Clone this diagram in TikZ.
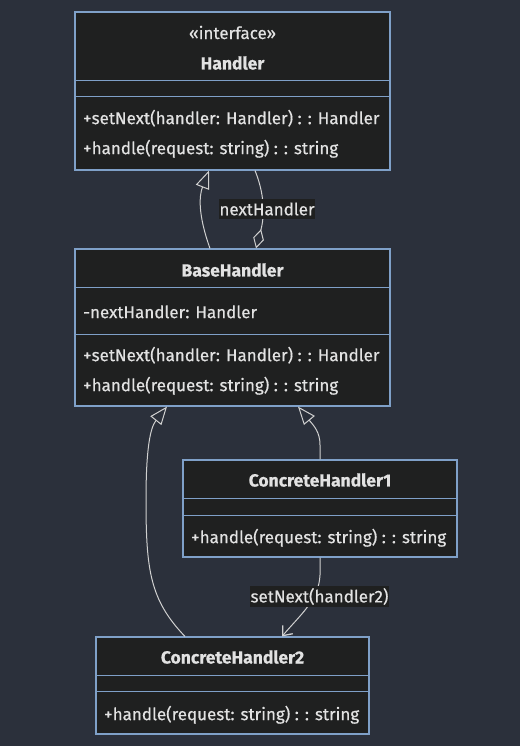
\documentclass[tikz,border=0pt]{standalone}
\usepackage{fontspec}
\setmainfont{Fira Sans}[FakeBold=0.5]
\usetikzlibrary{arrows.meta}
\definecolor{bg}{HTML}{2B303B}
\definecolor{boxfill}{HTML}{1F2020}
\definecolor{boxline}{HTML}{7FA0C8}
\definecolor{txt}{HTML}{E2E2E2}
\definecolor{edgecol}{HTML}{D0D0D0}
\begin{document}
\begin{tikzpicture}[x=1pt,y=-1pt,
  classbox/.style={draw=boxline, fill=boxfill, line width=1.1pt, inner sep=0pt, rectangle},
  sepline/.style={draw=boxline, line width=1.1pt},
  titletext/.style={font=\bfseries\fontsize{17.5}{20}\selectfont, text=txt, inner sep=0pt},
  stereotext/.style={font=\fontsize{17}{20}\selectfont, text=txt, inner sep=0pt},
  membertext/.style={font=\fontsize{17}{20}\selectfont, text=txt, inner sep=0pt, anchor=mid west},
  edgeline/.style={draw=edgecol, line width=1pt},
  edgelabel/.style={fill=boxfill, font=\fontsize{17}{20}\selectfont, text=txt, inner sep=0pt},
  inherit/.style={-{Triangle[open, length=18pt, width=14pt, fill=bg]}},
]
\fill[bg] (0,0) rectangle (520,746);
\useasboundingbox (0,0) rectangle (520,746);

% class boxes
\node[classbox, minimum width=315pt, minimum height=158pt] (handler) at (232.5,91) {};
\node[classbox, minimum width=315pt, minimum height=157pt] (base) at (232.5,327.5) {};
\node[classbox, minimum width=274pt, minimum height=97pt] (ch1) at (320,508.5) {};
\node[classbox, minimum width=273pt, minimum height=97pt] (ch2) at (232.5,685.5) {};

% separators
\draw[sepline] ([yshift=-69pt]handler.north west) -- ([yshift=-69pt]handler.north east);
\draw[sepline] ([yshift=-85pt]handler.north west) -- ([yshift=-85pt]handler.north east);
\draw[sepline] ([yshift=-39pt]base.north west) -- ([yshift=-39pt]base.north east);
\draw[sepline] ([yshift=-86pt]base.north west) -- ([yshift=-86pt]base.north east);
\draw[sepline] ([yshift=-39pt]ch1.north west) -- ([yshift=-39pt]ch1.north east);
\draw[sepline] ([yshift=-56pt]ch1.north west) -- ([yshift=-56pt]ch1.north east);
\draw[sepline] ([yshift=-39pt]ch2.north west) -- ([yshift=-39pt]ch2.north east);
\draw[sepline] ([yshift=-55pt]ch2.north west) -- ([yshift=-55pt]ch2.north east);

% texts: Handler
\node[stereotext] (hst) at (232.5,32.5) {«interface»};
\node[titletext] (htitle) at (232.5,63) {Handler};
\node[membertext] (hm1) at (83,121.5) {+setNext(handler: Handler) : : Handler};
\node[membertext] (hm2) at (83,151.5) {+handle(request: string) : : string};
% BaseHandler
\node[titletext] (btitle) at (232.5,270) {BaseHandler};
\node[membertext] (ba1) at (83,315.5) {-nextHandler: Handler};
\node[membertext] (bm1) at (83,358.5) {+setNext(handler: Handler) : : Handler};
\node[membertext] (bm2) at (83,388.5) {+handle(request: string) : : string};
% ConcreteHandler1
\node[titletext] (c1title) at (320,480) {ConcreteHandler1};
\node[membertext] (c1m1) at (191,540.5) {+handle(request: string) : : string};
% ConcreteHandler2
\node[titletext] (c2title) at (232.5,657) {ConcreteHandler2};
\node[membertext] (c2m1) at (104,717.5) {+handle(request: string) : : string};

% connectors
\draw[edgeline, inherit] ([xshift=-22.5pt]base.north) .. controls (198,215) and (199,196) .. ([xshift=-23.5pt]handler.south);
\draw[edgeline, {Diamond[open, length=20pt, width=11pt, fill=bg]}-] ([xshift=23.5pt]base.north) .. controls (263,222) and (267,200) .. ([xshift=22.5pt]handler.south);
\node[edgelabel, minimum width=94pt, minimum height=20pt] (lnext) at (267,209) {nextHandler};

\draw[edgeline, inherit] (ch1.north) -- (320,445) .. controls (320,432) and (314,426) .. ([xshift=65.5pt]base.south);
\draw[edgeline, inherit] ([xshift=-47.5pt]ch2.north) .. controls (150,600) and (146,570) .. (146,500) .. controls (146,450) and (150,428) .. ([xshift=-65.5pt]base.south);

\draw[edgeline, -{Straight Barb[length=8pt, width=13pt, line width=1.3pt]}] (ch1.south) -- (320,575) .. controls (319,600) and (300,615) .. ([xshift=49.5pt]ch2.north);
\node[edgelabel, minimum width=139pt, minimum height=21pt] (lset) at (319.5,596.5) {setNext(handler2)};
\end{tikzpicture}
\end{document}
